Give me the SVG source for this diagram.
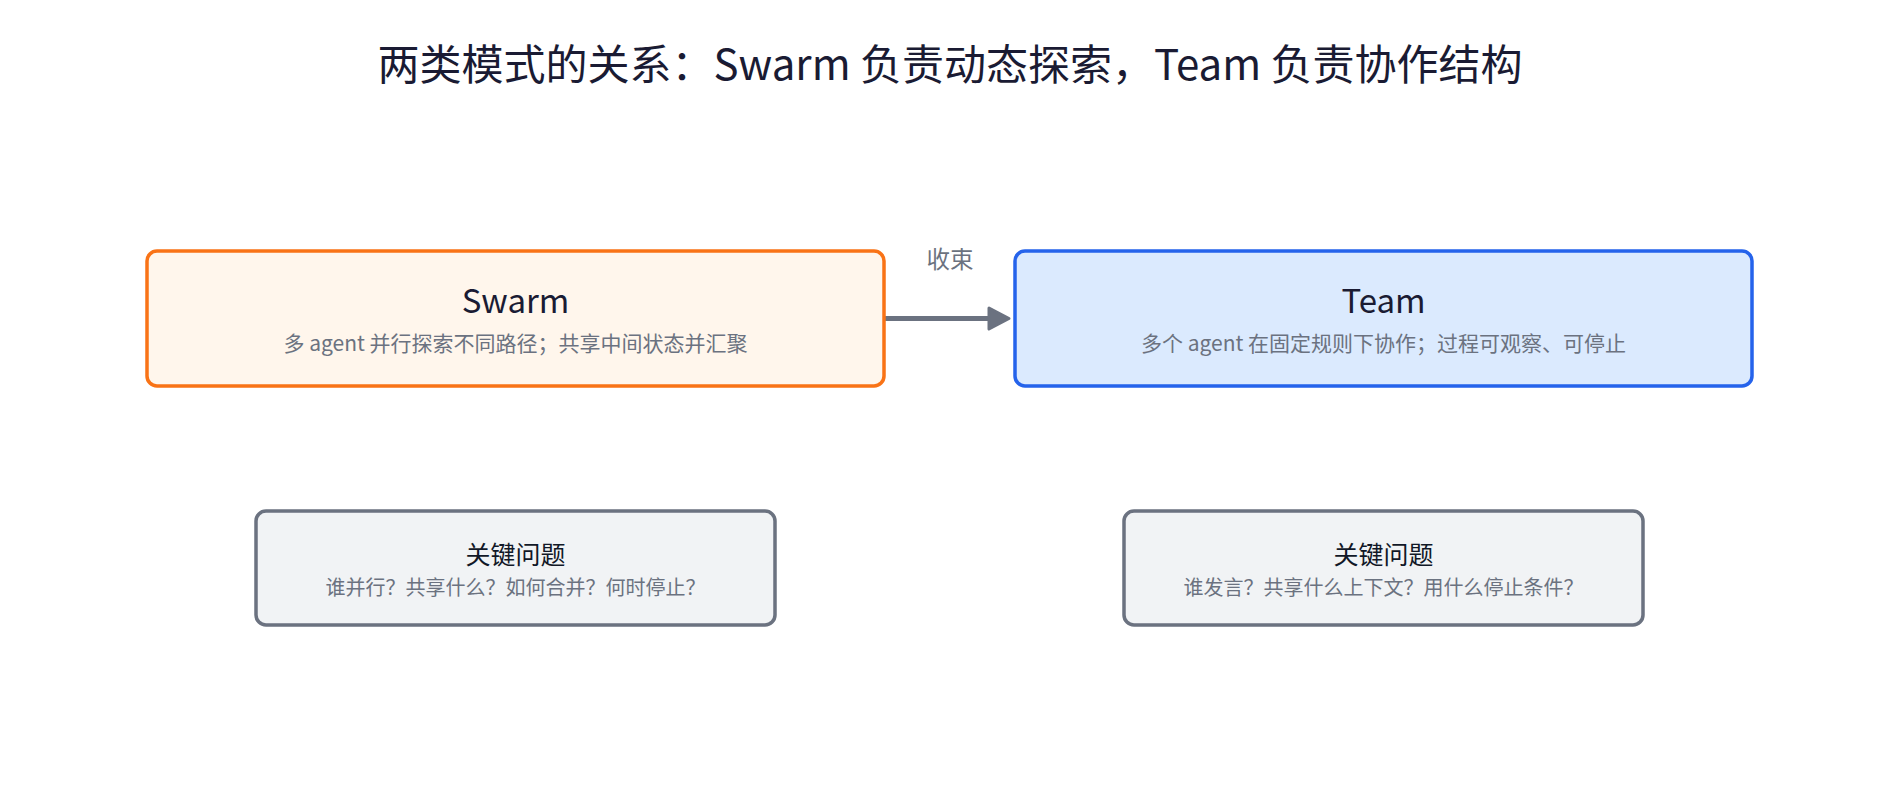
<svg xmlns="http://www.w3.org/2000/svg" width="1900" height="810" viewBox="0 0 1900 810">
  <defs>
    <style>
      text { font-family: "Noto Sans CJK SC", "Noto Sans", sans-serif; text-anchor: middle; }
      .title { font-size: 42px; fill: #1a1b33; }
      .ntitle { font-size: 33px; fill: #1a1b33; }
      .nsub { font-size: 21px; fill: #6b7280; }
      .ktitle { font-size: 25px; fill: #111827; }
      .ksub { font-size: 20px; fill: #6b7280; }
      .elabel { font-size: 23.5px; fill: #6b7280; }
      .swarm { fill: #fff6ec; stroke: #f97316; stroke-width: 3.5; }
      .team { fill: #dbeafe; stroke: #2563eb; stroke-width: 3.5; }
      .key { fill: #f1f3f5; stroke: #6b7280; stroke-width: 3.5; }
      .edge { stroke: #6b7280; stroke-width: 5; fill: none; stroke-linecap: round; }
      .head { fill: #6b7280; stroke: #6b7280; stroke-width: 3; stroke-linejoin: round; }
    </style>
  </defs>
  <rect width="1900" height="810" fill="#ffffff"/>
  <text class="title" x="950" y="80">两类模式的关系：Swarm 负责动态探索，Team 负责协作结构</text>

  <g id="connectors">
    <line class="edge" x1="886" y1="318.5" x2="992" y2="318.5"/>
    <polygon class="head" points="989,308 1009,318.5 989,329"/>
    <text class="elabel" x="950" y="268">收束</text>
  </g>

  <g id="swarm">
    <rect class="swarm" x="147" y="251" width="737" height="135" rx="10"/>
    <text class="ntitle" x="515.5" y="313">Swarm</text>
    <text class="nsub" x="515.5" y="351">多 agent 并行探索不同路径；共享中间状态并汇聚</text>
  </g>

  <g id="team">
    <rect class="team" x="1015" y="251" width="737" height="135" rx="10"/>
    <text class="ntitle" x="1383.5" y="313">Team</text>
    <text class="nsub" x="1383.5" y="351">多个 agent 在固定规则下协作；过程可观察、可停止</text>
  </g>

  <g id="swarm-key">
    <rect class="key" x="256" y="511" width="519" height="114" rx="10"/>
    <text class="ktitle" x="515.5" y="564">关键问题</text>
    <text class="ksub" x="515.5" y="595">谁并行？共享什么？如何合并？何时停止？</text>
  </g>

  <g id="team-key">
    <rect class="key" x="1124" y="511" width="519" height="114" rx="10"/>
    <text class="ktitle" x="1383.5" y="564">关键问题</text>
    <text class="ksub" x="1383.5" y="595">谁发言？共享什么上下文？用什么停止条件？</text>
  </g>
</svg>
